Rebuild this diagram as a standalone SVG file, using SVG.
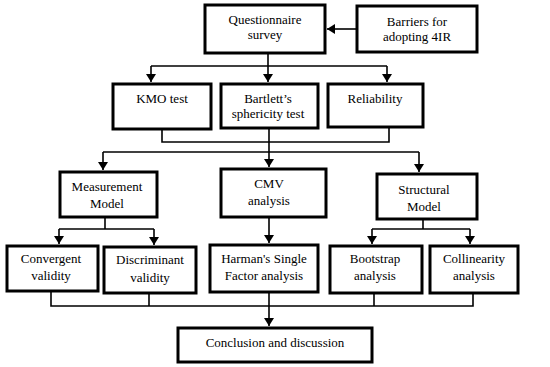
<svg xmlns="http://www.w3.org/2000/svg" width="550" height="367" viewBox="0 0 550 367">
<style>
.box{fill:#fff;stroke:#000;stroke-width:3}
.t{font-family:"Liberation Serif","Times New Roman",serif;font-size:13px;fill:#000;text-anchor:middle}
.c{fill:none;stroke:#000;stroke-width:1.6}
.a{marker-end:url(#ah)}
</style>
<defs>
<marker id="ah" markerUnits="userSpaceOnUse" markerWidth="10" markerHeight="10" viewBox="0 0 8 10" refX="8" refY="5" orient="auto">
<path d="M0,0 L8,5 L0,10 Z" fill="#000"/>
</marker>
</defs>
<rect width="550" height="367" fill="#fff"/>
<g id="connectors">
<line class="c a" x1="356" y1="29" x2="327" y2="29"/>
<line class="c" x1="268" y1="54" x2="268" y2="66"/>
<line class="c" x1="151" y1="66" x2="387" y2="66"/>
<line class="c a" x1="151" y1="66" x2="151" y2="82"/>
<line class="c a" x1="268" y1="66" x2="268" y2="82"/>
<line class="c a" x1="387" y1="66" x2="387" y2="82"/>
<polyline class="c" points="162,129 162,142 389,142 389,128"/>
<line class="c" x1="269" y1="129" x2="269" y2="152"/>
<line class="c" x1="103" y1="152" x2="419" y2="152"/>
<line class="c a" x1="103" y1="152" x2="103" y2="170"/>
<line class="c a" x1="269" y1="152" x2="269" y2="167"/>
<line class="c a" x1="419" y1="152" x2="419" y2="172"/>
<line class="c" x1="105" y1="218" x2="105" y2="229"/>
<line class="c" x1="59" y1="229" x2="154" y2="229"/>
<line class="c a" x1="59" y1="229" x2="59" y2="244"/>
<line class="c a" x1="154" y1="229" x2="154" y2="245"/>
<line class="c a" x1="269" y1="218" x2="269" y2="243"/>
<line class="c" x1="423" y1="220" x2="423" y2="229"/>
<line class="c" x1="372" y1="229" x2="470" y2="229"/>
<line class="c a" x1="372" y1="229" x2="372" y2="244"/>
<line class="c a" x1="470" y1="229" x2="470" y2="244"/>
<polyline class="c" points="51,292 51,306 473,306 473,294"/>
<line class="c" x1="149" y1="294" x2="149" y2="306"/>
<line class="c" x1="374" y1="294" x2="374" y2="306"/>
<line class="c" x1="269" y1="293" x2="269" y2="306"/>
<line class="c a" x1="269" y1="306" x2="269" y2="326"/>
</g>
<g id="questionnaire"><rect class="box" x="205" y="5" width="120" height="48"/><text class="t" x="265" y="24">Questionnaire</text><text class="t" x="265" y="39">survey</text></g>
<g id="barriers"><rect class="box" x="357" y="6" width="120" height="46"/><text class="t" x="417" y="26">Barriers for</text><text class="t" x="417" y="41">adopting 4IR</text></g>
<g id="kmo"><rect class="box" x="113" y="84" width="98" height="45"/><text class="t" x="162" y="103">KMO test</text></g>
<g id="bartlett"><rect class="box" x="221" y="84" width="97" height="44"/><text class="t" x="268" y="103">Bartlett’s</text><text class="t" x="268" y="118">sphericity test</text></g>
<g id="reliability"><rect class="box" x="328" y="84" width="95" height="43"/><text class="t" x="375" y="103">Reliability</text></g>
<g id="measurement"><rect class="box" x="60" y="172" width="97" height="45"/><text class="t" x="107" y="191">Measurement</text><text class="t" x="107" y="208">Model</text></g>
<g id="cmv"><rect class="box" x="221" y="169" width="105" height="48"/><text class="t" x="269" y="188">CMV</text><text class="t" x="269" y="205">analysis</text></g>
<g id="structural"><rect class="box" x="377" y="174" width="100" height="45"/><text class="t" x="424" y="194">Structural</text><text class="t" x="424" y="211">Model</text></g>
<g id="convergent"><rect class="box" x="7" y="246" width="91" height="45"/><text class="t" x="51" y="263">Convergent</text><text class="t" x="51" y="280">validity</text></g>
<g id="discriminant"><rect class="box" x="104" y="247" width="92" height="46"/><text class="t" x="150" y="264">Discriminant</text><text class="t" x="150" y="282">validity</text></g>
<g id="harman"><rect class="box" x="210" y="245" width="108" height="47"/><text class="t" x="264" y="263">Harman's Single</text><text class="t" x="264" y="280">Factor analysis</text></g>
<g id="bootstrap"><rect class="box" x="330" y="246" width="92" height="47"/><text class="t" x="375" y="263">Bootstrap</text><text class="t" x="375" y="280">analysis</text></g>
<g id="collinearity"><rect class="box" x="430" y="246" width="88" height="47"/><text class="t" x="474" y="263">Collinearity</text><text class="t" x="474" y="280">analysis</text></g>
<g id="conclusion"><rect class="box" x="178" y="328" width="194" height="34"/><text class="t" x="275" y="347">Conclusion and discussion</text></g>
</svg>
